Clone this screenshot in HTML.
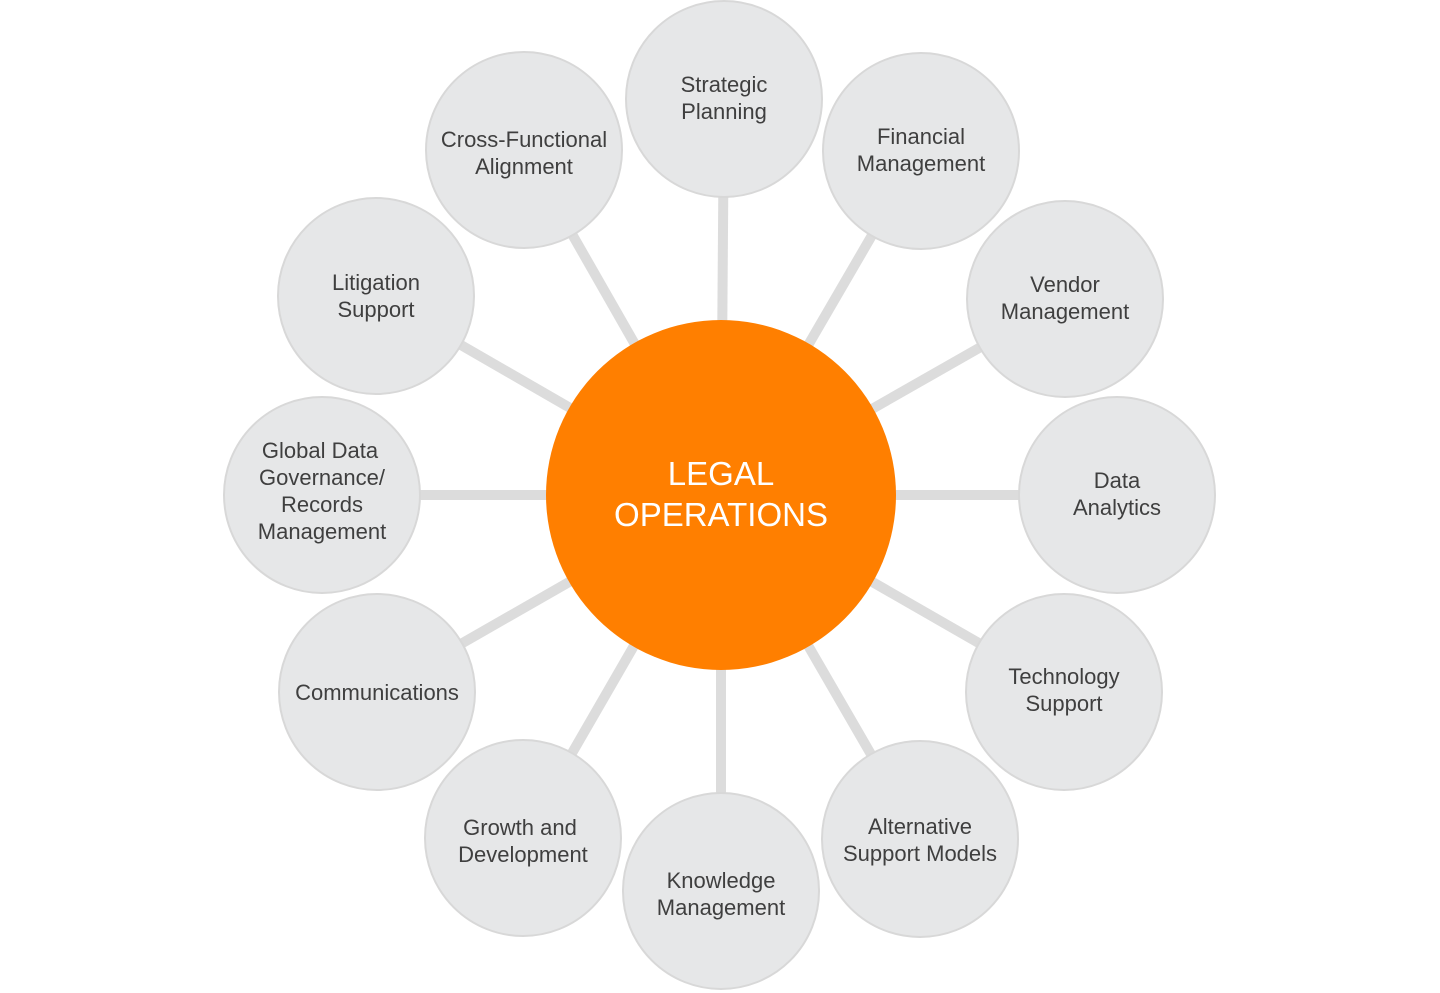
<!DOCTYPE html>
<html><head><meta charset="utf-8"><style>
html,body{margin:0;padding:0;background:#fff;}
svg{display:block;}
text{font-family:"Liberation Sans",sans-serif;fill:#3f3f3f;font-size:22px;text-anchor:middle;}
</style></head><body>
<svg width="1440" height="993" viewBox="0 0 1440 993">
<g stroke="#dcdcdc" stroke-width="10">
<line x1="721" y1="495" x2="724" y2="99"/>
<line x1="721" y1="495" x2="921" y2="151"/>
<line x1="721" y1="495" x2="1065" y2="299"/>
<line x1="721" y1="495" x2="1117" y2="495"/>
<line x1="721" y1="495" x2="1064" y2="692"/>
<line x1="721" y1="495" x2="920" y2="839"/>
<line x1="721" y1="495" x2="721" y2="891"/>
<line x1="721" y1="495" x2="523" y2="838"/>
<line x1="721" y1="495" x2="377" y2="692"/>
<line x1="721" y1="495" x2="322" y2="495"/>
<line x1="721" y1="495" x2="376" y2="296"/>
<line x1="721" y1="495" x2="524" y2="150"/>
</g>
<g fill="#e6e7e8" stroke="#d8d8d8" stroke-width="2">
<circle cx="724" cy="99" r="98"/>
<circle cx="921" cy="151" r="98"/>
<circle cx="1065" cy="299" r="98"/>
<circle cx="1117" cy="495" r="98"/>
<circle cx="1064" cy="692" r="98"/>
<circle cx="920" cy="839" r="98"/>
<circle cx="721" cy="891" r="98"/>
<circle cx="523" cy="838" r="98"/>
<circle cx="377" cy="692" r="98"/>
<circle cx="322" cy="495" r="98"/>
<circle cx="376" cy="296" r="98"/>
<circle cx="524" cy="150" r="98"/>
</g>
<circle cx="721" cy="495" r="175" fill="#ff7f00"/>
<text x="721" y="485" style="fill:#fff;font-size:33px">LEGAL</text>
<text x="721" y="526" style="fill:#fff;font-size:33px">OPERATIONS</text>
<text x="724" y="92">Strategic</text><text x="724" y="119">Planning</text>
<text x="921" y="144">Financial</text><text x="921" y="171">Management</text>
<text x="1065" y="292">Vendor</text><text x="1065" y="319">Management</text>
<text x="1117" y="488">Data</text><text x="1117" y="515">Analytics</text>
<text x="1064" y="684">Technology</text><text x="1064" y="711">Support</text>
<text x="920" y="834">Alternative</text><text x="920" y="861">Support Models</text>
<text x="721" y="888">Knowledge</text><text x="721" y="915">Management</text>
<text x="520" y="835">Growth and</text><text x="523" y="862">Development</text>
<text x="377" y="700">Communications</text>
<text x="320" y="458">Global Data</text><text x="322" y="485">Governance/</text><text x="322" y="512">Records</text><text x="322" y="539">Management</text>
<text x="376" y="290">Litigation</text><text x="376" y="317">Support</text>
<text x="524" y="147">Cross-Functional</text><text x="524" y="174">Alignment</text>
</svg>
</body></html>
